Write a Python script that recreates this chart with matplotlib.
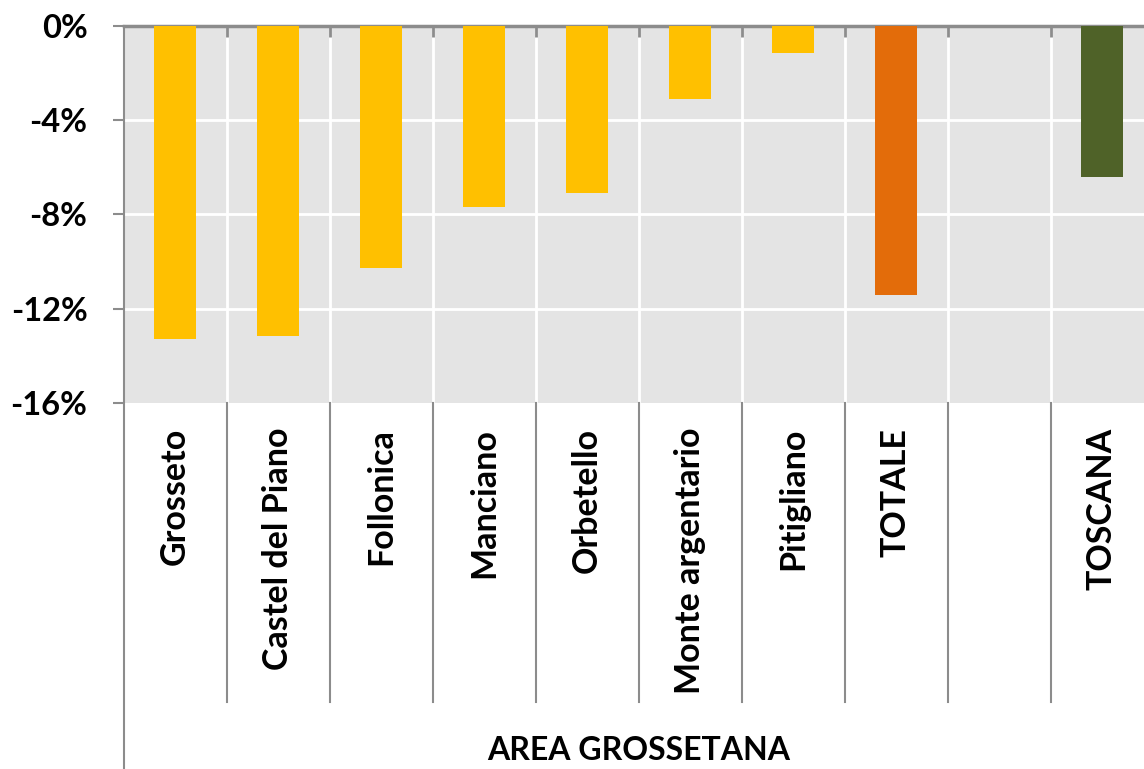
import matplotlib.pyplot as plt
import matplotlib.transforms as mtransforms
import numpy as np

categories = ["Grosseto", "Castel del Piano", "Follonica", "Manciano", "Orbetello",
              "Monte argentario", "Pitigliano", "TOTALE", "", "TOSCANA"]
values = [-13.3, -13.15, -10.27, -7.68, -7.09, -3.1, -1.17, -11.4, np.nan, -6.4]
bar_colors = ["#FFC000"] * 7 + ["#E36C0A", "#FFC000", "#4F6228"]
y_ticks = [0, -4, -8, -12, -16]
group_label = "AREA GROSSETANA"

plt.rcParams['font.family'] = ['Lato', 'DejaVu Sans']
plt.rcParams['font.weight'] = 'bold'

W, H = 1144, 769
left, top, bottom = 123.5, 25.7, 403
slot = 103
fig = plt.figure(figsize=(W / 100, H / 100), dpi=100)
ax = fig.add_axes([left / W, 1 - bottom / H, slot * 10 / W, (bottom - top) / H])
ax.set_facecolor("#E4E4E4")

x = np.arange(len(categories))
ax.bar(x, values, width=0.4, color=bar_colors, zorder=3)

ax.set_xlim(-0.5, len(categories) - 0.5)
ax.set_ylim(-16, 0)

# white grid lines
for yv in y_ticks[1:-1]:
    ax.axhline(yv, color="white", lw=2, zorder=1)
for xb in np.arange(0.5, len(categories) - 0.5, 1):
    ax.axvline(xb, color="white", lw=2, zorder=1)

grey = "#8C8C8C"
ax.set_yticks(y_ticks)
ax.set_yticklabels([f"{v}%" for v in y_ticks], fontsize=23.5, fontweight="bold")
ax.tick_params(axis="y", direction="out", length=8, width=1.5, color=grey, pad=18)

ax.xaxis.tick_top()
ax.set_xticks(np.arange(0.5, len(categories) - 0.5, 1))
ax.set_xticklabels([])
ax.tick_params(axis="x", direction="in", length=8, width=2, color=grey)

for s in ["right", "bottom", "left"]:
    ax.spines[s].set_visible(False)
ax.spines["top"].set_color(grey)
ax.spines["top"].set_linewidth(2.5)

trans = mtransforms.blended_transform_factory(ax.transData, ax.transAxes)
h_ax = bottom - top
sep_bottom = -(702 - bottom) / h_ax
fig_bottom = -(H - bottom) / h_ax

# left axis line runs down through the label area
ax.plot([-0.5, -0.5], [1, fig_bottom], transform=trans, color=grey, lw=1.5, clip_on=False, zorder=5)
# separators under the plot
for xb in np.arange(0.5, len(categories) - 0.5, 1):
    ax.plot([xb, xb], [0, sep_bottom], transform=trans, color=grey, lw=1.5, clip_on=False)

for xi, name in zip(x, categories):
    ax.text(xi, -(428 - bottom) / h_ax, name, transform=trans, rotation=90,
            ha="center", va="top", fontsize=24.5, fontweight="bold")

ax.text(4.5, -(750 - bottom) / h_ax, group_label, transform=trans,
        ha="center", va="center", fontsize=23, fontweight="bold")

fig.savefig("out.png", dpi=100)
